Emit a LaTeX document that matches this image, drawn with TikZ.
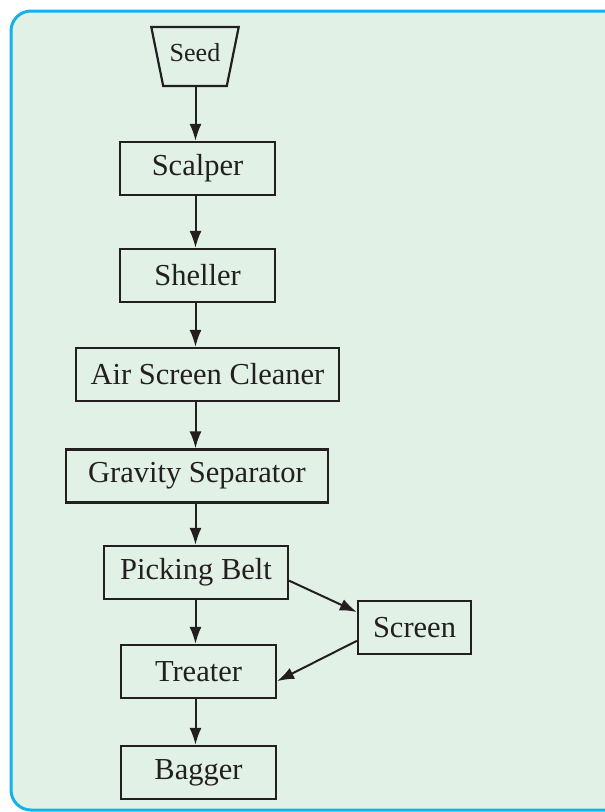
\documentclass[tikz,border=0pt]{standalone}
\usepackage{fontspec}
\setmainfont{Liberation Serif}
\usetikzlibrary{arrows.meta, shapes.geometric}

\definecolor{ink}{HTML}{231F20}
\definecolor{panelfill}{HTML}{E1F1E6}
\definecolor{panelline}{HTML}{14B1EC}

\tikzset{
  box/.style = {draw = ink, line width = 2.2pt, rectangle, minimum height = 53pt,
    inner sep = 0pt, text = ink, font = \fontsize{30.5}{36}\selectfont},
  flow/.style = {draw = ink, line width = 2pt, -{Latex[length = 17pt, width = 12pt]}}
}

\begin{document}
\begin{tikzpicture}[x = 1pt, y = -1pt]

      \useasboundingbox (0, 0) rectangle (605, 812);
      \clip (0, 0) rectangle (605, 812);
      \draw[line width = 3pt, color = panelline, fill = panelfill, rounded corners = 20pt]
        (640, 11) -- (11, 11) -- (11, 810) -- (640, 810);

      \node[trapezium, trapezium angle = 70, shape border rotate = 180, trapezium stretches = true,
        draw = ink, line width = 2.2pt, minimum width = 88pt, minimum height = 59pt, inner sep = 0pt,
        text = ink, font = \fontsize{26}{30}\selectfont] (seed) at (195, 56.5) {\raisebox{8pt}{Seed}};

      \node[box, minimum width = 155pt] (scalper) at (197.5, 168.5) {Scalper};
      \node[box, minimum width = 155pt] (sheller) at (197.5, 275.5) {Sheller};
      \node[box, minimum width = 263pt] (cleaner) at (207.5, 374.5) {Air Screen Cleaner};
      \node[box, minimum width = 262pt] (gravity) at (197, 476) {Gravity Separator};
      \node[box, minimum width = 184pt] (picking) at (196, 572.5) {Picking Belt};
      \node[box, minimum width = 113pt] (screen) at (414.5, 627.5) {Screen};
      \node[box, minimum width = 155pt] (treater) at (198.5, 671.5) {Treater};
      \node[box, minimum width = 155pt] (bagger) at (198.5, 772.5) {Bagger};

      \coordinate (col) at (195.5, 0);

      \draw[flow] (seed.south -| col) -- (scalper.north -| col);
      \draw[flow] (scalper.south -| col) -- (sheller.north -| col);
      \draw[flow] (sheller.south -| col) -- (cleaner.north -| col);
      \draw[flow] (cleaner.south -| col) -- (gravity.north -| col);
      \draw[flow] (gravity.south -| col) -- (picking.north -| col);
      \draw[flow] (picking.south -| col) -- (treater.north -| col);
      \draw[flow] (treater.south -| col) -- (bagger.north -| col);

      \draw[flow] (picking.-5) -- (screen.165);
      \draw[flow] (screen.193) -- (treater.-7);

    \end{tikzpicture}
\end{document}
